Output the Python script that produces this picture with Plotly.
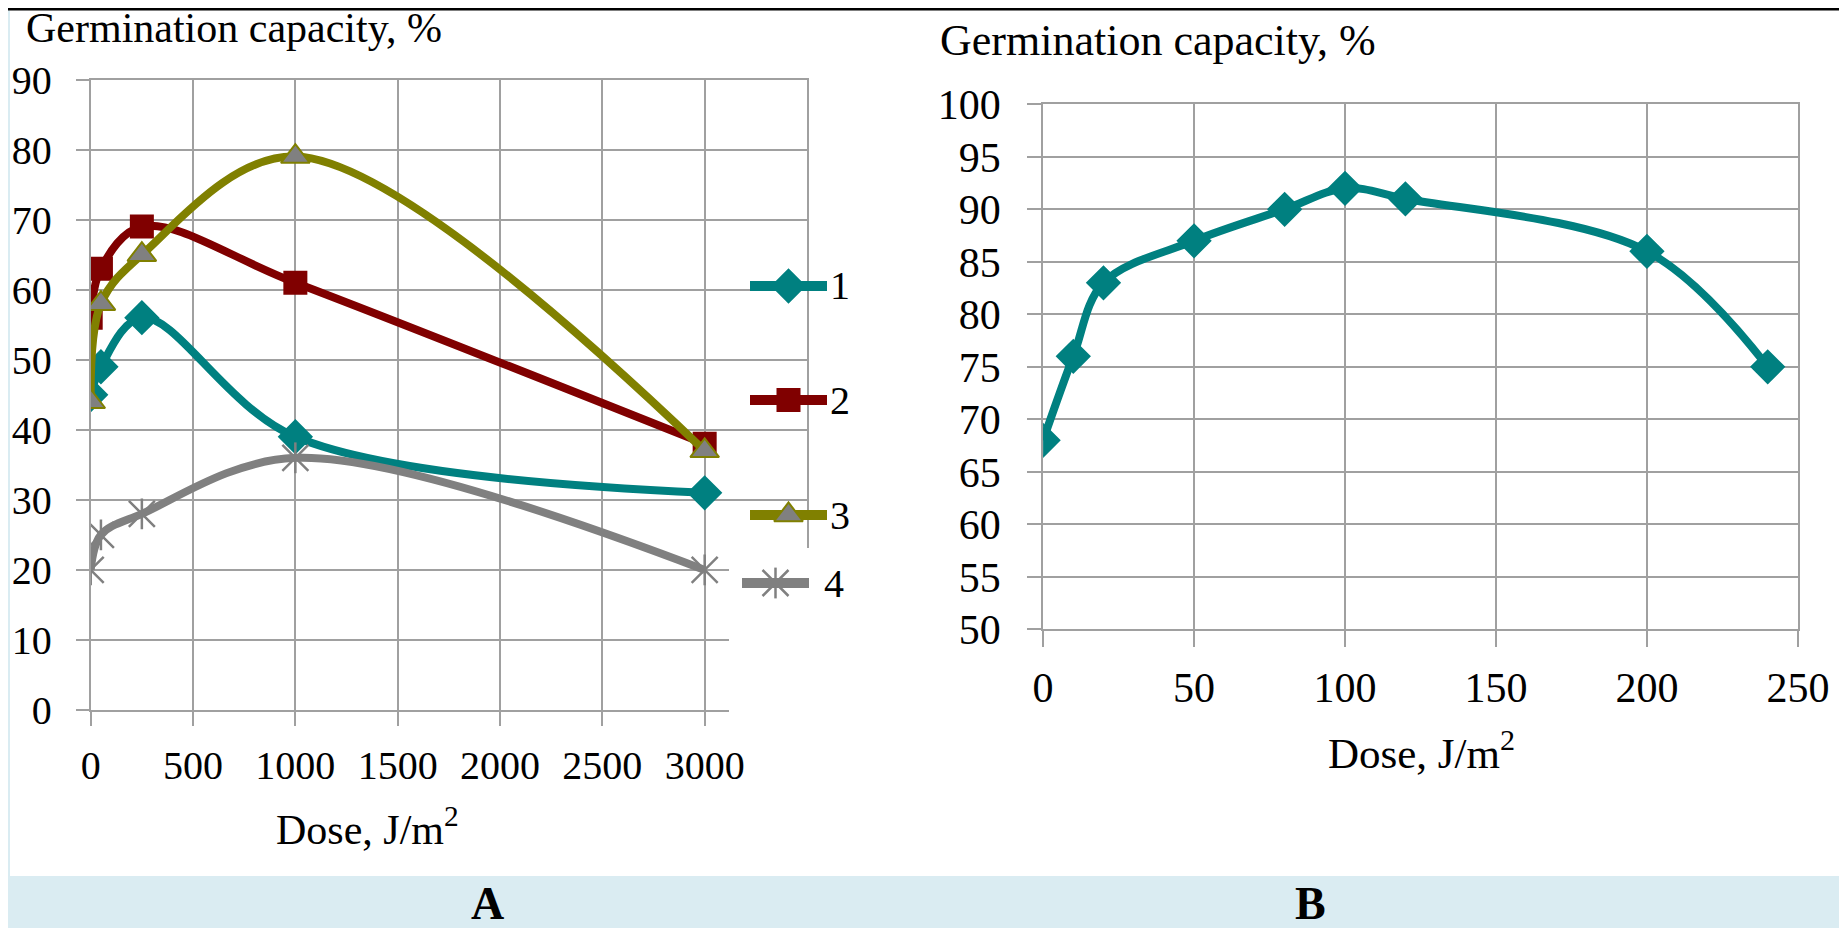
import plotly.graph_objects as go

W, H = 1847, 928
OFF = 8  # default body margin of the html page
FW, FH = W - OFF, H - OFF

# ---- data ----
DOSE_A = [0, 50, 250, 1000, 3000]
GERM_A1 = [45, 49, 56, 39, 31]
GERM_A2 = [56, 63, 69, 61, 38]
GERM_A3 = [44, 58, 65, 79, 37]
GERM_A4 = [20, 25, 28, 36, 20]
SERIES_NAMES = ["1", "2", "3", "4"]

DOSE_B = [0, 10, 20, 50, 80, 100, 120, 200, 240]
GERM_B = [68, 76, 83, 87, 90, 92, 91, 86, 75]

A_XTICKS = [0, 500, 1000, 1500, 2000, 2500, 3000, 3500]
A_XLABELS = ["0", "500", "1000", "1500", "2000", "2500", "3000", ""]
A_YTICKS = list(range(0, 91, 10))
B_XTICKS = [0, 50, 100, 150, 200, 250]
B_YTICKS = list(range(50, 101, 5))

Y_TITLE = "Germination capacity, %"
X_TITLE = "Dose, J/m<sup>2</sup>"

# ---- style ----
TEAL = "#008080"
MAROON = "#800000"
OLIVE = "#808000"
GRAY = "#808080"
GRID = "#a0a0a0"
BG_BLUE = "#daecf2"
FONT = "Liberation Serif, Times New Roman, serif"

SERIES_STYLE = [
    dict(color=TEAL, symbol="diamond", fill=TEAL, edge=TEAL, size=25),
    dict(color=MAROON, symbol="square", fill=MAROON, edge=MAROON, size=22),
    dict(color=OLIVE, symbol="triangle-up", fill=GRAY, edge=OLIVE, size=25),
    dict(color=GRAY, symbol="x-thin", fill=GRAY, edge=GRAY, size=26),
]

# legend key placement (window pixels) for the hand-drawn legend of panel A
LEG_Y = [286, 400, 515, 583]
LEG_X0 = [750, 750, 750, 742]
LEG_X1 = [827, 827, 827, 809]
LEG_TEXT_X = [840, 840, 840, 834]


def px(x):
    # window pixel -> paper fraction
    return (x - OFF) / FW


def py(y):
    return 1 - (y - OFF) / FH


def add_series(fig, x, y, st, name, xa, ya, width=8):
    fig.add_trace(go.Scatter(
        x=x, y=y, name=name, mode="lines",
        line=dict(color=st["color"], width=width, shape="spline", smoothing=1.0),
        xaxis=xa, yaxis=ya, showlegend=False, hoverinfo="skip",
    ))
    add_markers(fig, x, y, st, xa, ya)


def add_markers(fig, x, y, st, xa, ya):
    if st["symbol"] == "x-thin":
        # excel style star: x plus a vertical stroke
        for sym, size in (("x-thin", st["size"]), ("line-ns", st["size"] - 4)):
            fig.add_trace(go.Scatter(
                x=x, y=y, mode="markers", xaxis=xa, yaxis=ya,
                marker=dict(symbol=sym, size=size, line=dict(color=st["edge"], width=2.5)),
                showlegend=False, hoverinfo="skip",
            ))
    else:
        fig.add_trace(go.Scatter(
            x=x, y=y, mode="markers", xaxis=xa, yaxis=ya,
            marker=dict(symbol=st["symbol"], size=st["size"], color=st["fill"],
                        line=dict(color=st["edge"], width=2)),
            showlegend=False, hoverinfo="skip",
        ))


def axis_style(size, ticklen, standoff):
    return dict(
        showgrid=True, gridcolor=GRID, gridwidth=2, zeroline=False,
        showline=True, mirror=True, linecolor=GRID, linewidth=2,
        ticks="outside", ticklen=ticklen, tickwidth=2, tickcolor=GRID,
        tickfont=dict(family=FONT, size=size, color="black"),
        ticklabelstandoff=standoff, fixedrange=True, automargin=False,
    )


fig = go.Figure()

# panel A
for y, st, name in zip([GERM_A1, GERM_A2, GERM_A3, GERM_A4], SERIES_STYLE, SERIES_NAMES):
    add_series(fig, DOSE_A, y, st, name, "x", "y")

# panel B
add_series(fig, DOSE_B, GERM_B, SERIES_STYLE[0], "B", "x2", "y2")

# hand-drawn legend on a pixel overlay
for i, st in enumerate(SERIES_STYLE):
    fig.add_trace(go.Scatter(
        x=[LEG_X0[i], LEG_X1[i]], y=[LEG_Y[i], LEG_Y[i]], mode="lines",
        line=dict(color=st["color"], width=10), xaxis="x3", yaxis="y3",
        showlegend=False, hoverinfo="skip",
    ))
    add_markers(fig, [(LEG_X0[i] + LEG_X1[i]) / 2], [LEG_Y[i]], st, "x3", "y3")

fig.update_layout(
    template="none",
    width=FW, height=FH, autosize=False, showlegend=False,
    margin=dict(l=0, r=0, t=0, b=0, pad=0, autoexpand=False),
    paper_bgcolor=BG_BLUE, plot_bgcolor="rgba(0,0,0,0)",
    font=dict(family=FONT, color="black"),
    xaxis=dict(domain=[px(90.7), px(807)], range=[0, 3500], anchor="y",
               tickmode="array", tickvals=A_XTICKS, ticktext=A_XLABELS,
               **axis_style(40, 14, 5)),
    yaxis=dict(domain=[py(710), py(79.5)], range=[0, 90], anchor="x",
               tickmode="array", tickvals=A_YTICKS, **axis_style(40, 13, 16)),
    xaxis2=dict(domain=[px(1043.1), px(1797.9)], range=[0, 250], anchor="y2",
                tickmode="array", tickvals=B_XTICKS, **axis_style(42, 16, 4)),
    yaxis2=dict(domain=[py(629.3), py(104.3)], range=[50, 100], anchor="x2",
                tickmode="array", tickvals=B_YTICKS, **axis_style(42, 14, 18)),
    xaxis3=dict(domain=[0, 1], range=[OFF, W], visible=False, fixedrange=True,
                anchor="y3", automargin=False),
    yaxis3=dict(domain=[0, 1], range=[H, OFF], visible=False, fixedrange=True,
                anchor="x3", automargin=False),
)

shapes = [
    # white sheet with the light-blue frame showing around it
    dict(type="rect", xref="paper", yref="paper", x0=px(10), x1=px(1840), y0=py(876), y1=1,
         fillcolor="white", line=dict(width=0), layer="below"),
    dict(type="rect", xref="paper", yref="paper", x0=0, x1=1, y0=py(10.5), y1=1,
         fillcolor="black", line=dict(width=0), layer="below"),
    # legend box hiding the lower right corner of panel A
    dict(type="rect", xref="x3", yref="y3", x0=729, x1=905, y0=548, y1=745,
         fillcolor="white", line=dict(width=0), layer="below"),
]
fig.update_layout(shapes=shapes)

ann = [
    dict(text=Y_TITLE, x=px(24), y=py(28), xanchor="left", yanchor="middle",
         font=dict(size=42)),
    dict(text=Y_TITLE, x=px(938), y=py(41), xanchor="left", yanchor="middle",
         font=dict(size=44)),
    dict(text=X_TITLE, x=px(367), y=py(826), xanchor="center", yanchor="middle",
         font=dict(size=42)),
    dict(text=X_TITLE, x=px(1421), y=py(750), xanchor="center", yanchor="middle",
         font=dict(size=43)),
    dict(text="<b>A</b>", x=px(488), y=py(903), xanchor="center", yanchor="middle",
         font=dict(size=46)),
    dict(text="<b>B</b>", x=px(1310), y=py(903), xanchor="center", yanchor="middle",
         font=dict(size=46)),
]
for i, name in enumerate(SERIES_NAMES):
    ann.append(dict(text=name, x=px(LEG_TEXT_X[i]), y=py(LEG_Y[i]), xanchor="center",
                    yanchor="middle", font=dict(size=40)))
for a in ann:
    a.update(xref="paper", yref="paper", showarrow=False)
fig.update_layout(annotations=ann)

fig.write_html("out.html")
